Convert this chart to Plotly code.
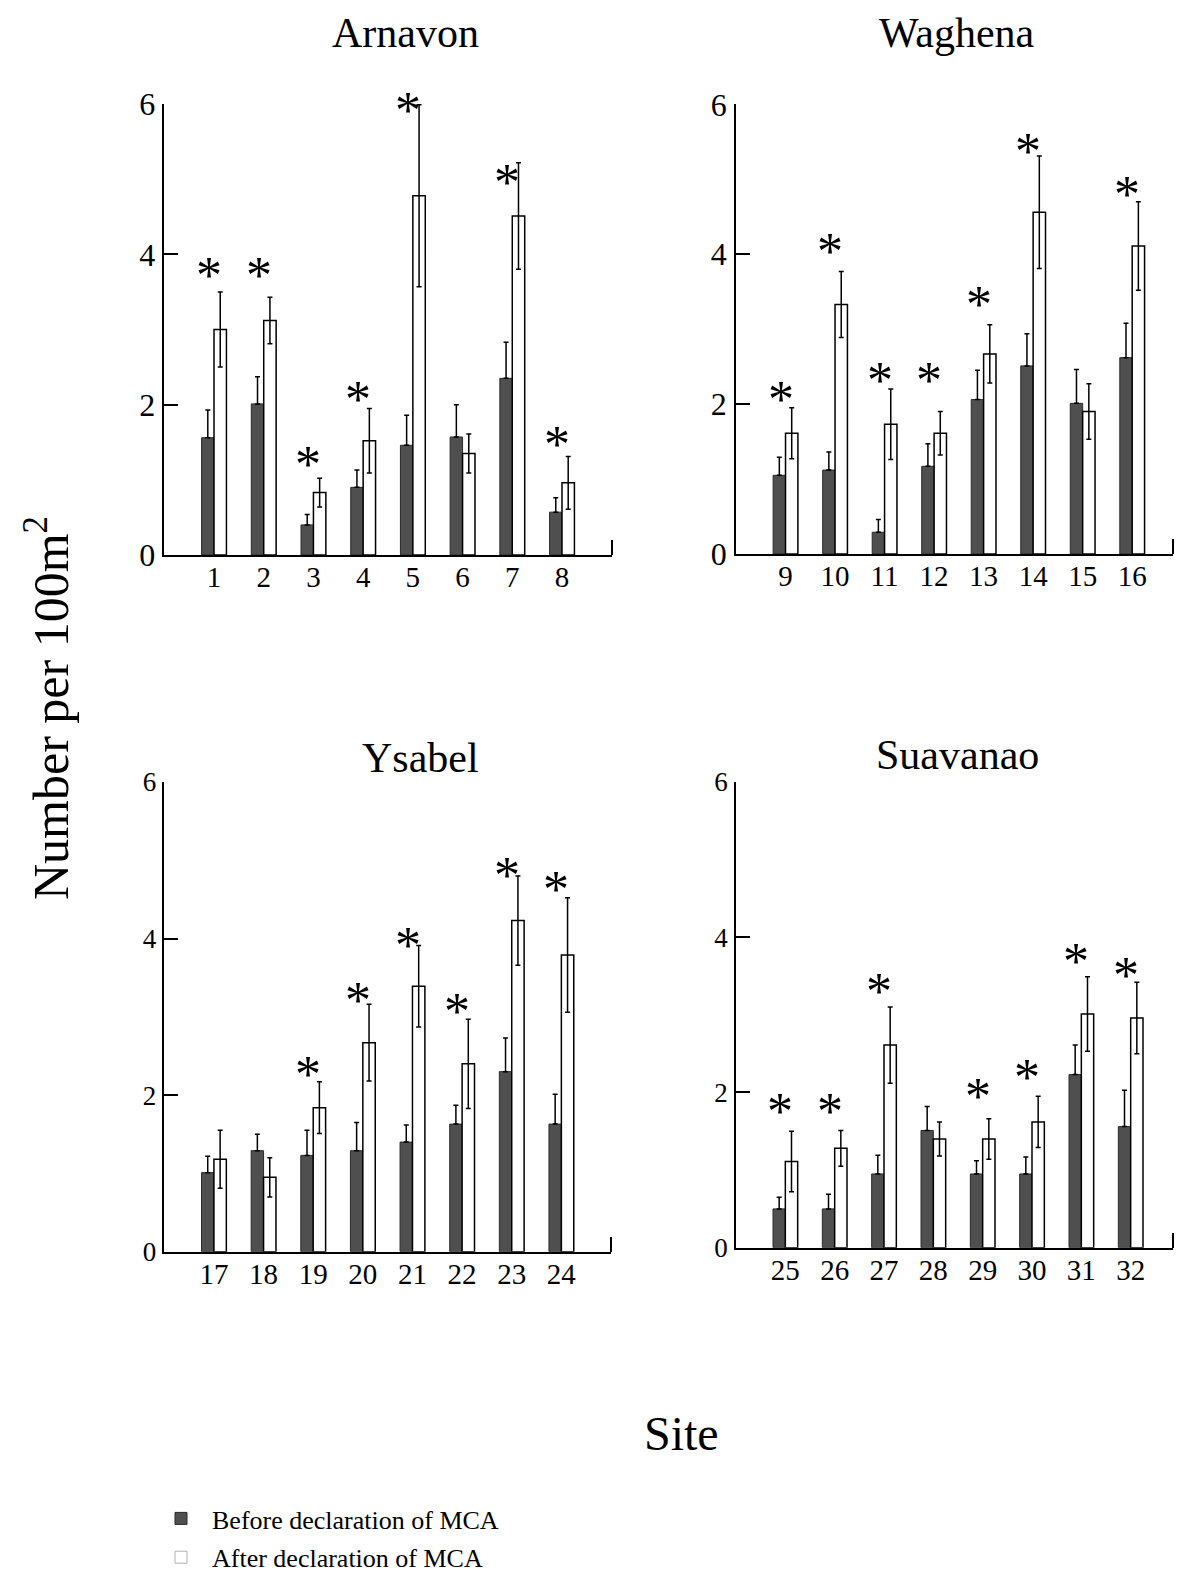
import plotly.graph_objects as go

# ---------------- data ----------------
arn_sites = ["1", "2", "3", "4", "5", "6", "7", "8"]
arn_before = [1.56, 2.01, 0.40, 0.90, 1.46, 1.57, 2.35, 0.57]
arn_before_se = [0.37, 0.36, 0.14, 0.23, 0.40, 0.43, 0.48, 0.19]
arn_after = [3.00, 3.12, 0.83, 1.52, 4.78, 1.35, 4.51, 0.96]
arn_after_se = [0.50, 0.31, 0.19, 0.43, 1.21, 0.26, 0.71, 0.35]
arn_star = [3.80, 3.80, 1.29, 2.15, 5.99, None, 5.03, 1.55]

wag_sites = ["9", "10", "11", "12", "13", "14", "15", "16"]
wag_before = [1.05, 1.12, 0.29, 1.17, 2.06, 2.51, 2.01, 2.62]
wag_before_se = [0.24, 0.24, 0.17, 0.30, 0.39, 0.43, 0.45, 0.46]
wag_after = [1.61, 3.33, 1.73, 1.61, 2.67, 4.56, 1.90, 4.11]
wag_after_se = [0.34, 0.44, 0.47, 0.29, 0.39, 0.75, 0.37, 0.59]
wag_star = [2.14, 4.11, 2.39, 2.39, 3.41, 5.45, None, 4.88]

ysa_sites = ["17", "18", "19", "20", "21", "22", "23", "24"]
ysa_before = [1.01, 1.29, 1.23, 1.29, 1.40, 1.63, 2.30, 1.63]
ysa_before_se = [0.21, 0.21, 0.32, 0.36, 0.22, 0.24, 0.43, 0.38]
ysa_after = [1.18, 0.95, 1.84, 2.67, 3.39, 2.40, 4.23, 3.79]
ysa_after_se = [0.37, 0.25, 0.33, 0.49, 0.52, 0.57, 0.57, 0.73]
ysa_star = [None, None, 2.34, 3.28, 3.99, 3.15, 4.88, 4.70]

sua_sites = ["25", "26", "27", "28", "29", "30", "31", "32"]
sua_before = [0.50, 0.50, 0.95, 1.51, 0.95, 0.95, 2.23, 1.56]
sua_before_se = [0.15, 0.19, 0.24, 0.31, 0.17, 0.22, 0.38, 0.47]
sua_after = [1.11, 1.28, 2.61, 1.40, 1.40, 1.62, 3.01, 2.96]
sua_after_se = [0.39, 0.23, 0.49, 0.22, 0.26, 0.33, 0.48, 0.46]
sua_star = [1.83, 1.83, 3.38, None, 2.03, 2.27, 3.76, 3.58]

panel_titles = ["Arnavon", "Waghena", "Ysabel", "Suavanao"]
legend_names = ["Before declaration of MCA", "After declaration of MCA"]
y_ticks = [0, 2, 4, 6]

# ---------------- styling / layout ----------------
FONT = "Liberation Serif"
DARK = "#4f4f4f"
OFF = 8                      # page body margin of the browser
W, H = 1184 - OFF, 1580 - 2 * OFF
VIS_RIGHT = 1173             # right-most visible screen pixel


def px(p):
    return (p - OFF) / W


def py(p):
    return 1 - (p - OFF) / H


panels = [
    dict(sites=arn_sites, b=arn_before, bse=arn_before_se, a=arn_after, ase=arn_after_se, star=arn_star,
         xs=(164.3, 611.7), yd=[py(555), py(104)], yfs=32, title_xy=(405, None), xstand=-5),
    dict(sites=wag_sites, b=wag_before, bse=wag_before_se, a=wag_after, ase=wag_after_se, star=wag_star,
         xs=(736, 1181.7), yd=[py(554), py(104.3)], yfs=32, title_xy=(957, None), xstand=-5),
    dict(sites=ysa_sites, b=ysa_before, bse=ysa_before_se, a=ysa_after, ase=ysa_after_se, star=ysa_star,
         xs=(164.3, 611), yd=[py(1251.7), py(782)], yfs=27, title_xy=(421, 758), xstand=-4),
    dict(sites=sua_sites, b=sua_before, bse=sua_before_se, a=sua_after, ase=sua_after_se, star=sua_star,
         xs=(736, 1180), yd=[py(1247.7), py(782)], yfs=27, title_xy=(957, 755), xstand=-4),
]

fig = go.Figure()
annotations = []
layout_axes = {}

for i, p in enumerate(panels):
    n = i + 1
    xa = "x" if n == 1 else f"x{n}"
    ya = "y" if n == 1 else f"y{n}"
    pos = list(range(1, len(p["sites"]) + 1))

    x0, x1 = p["xs"]
    full_max = len(pos) + 1
    vis_end = min(x1, VIS_RIGHT)
    rmax = full_max * (vis_end - x0) / (x1 - x0)

    fig.add_trace(go.Bar(
        x=pos, y=p["b"], xaxis=xa, yaxis=ya, showlegend=False, offsetgroup="b",
        marker=dict(color=DARK, line=dict(color="#2a2a2a", width=1)),
        error_y=dict(type="data", array=p["bse"], arrayminus=[0] * len(p["bse"]), symmetric=False,
                     color="black", thickness=1.5, width=2.5),
    ))
    fig.add_trace(go.Bar(
        x=pos, y=p["a"], xaxis=xa, yaxis=ya, showlegend=False, offsetgroup="a",
        marker=dict(color="white", line=dict(color="black", width=1.5)),
        error_y=dict(type="data", array=p["ase"], color="black", thickness=1.5, width=2.5),
    ))

    for xi, sy in zip(pos, p["star"]):
        if sy is not None:
            annotations.append(dict(
                x=xi - 0.1, y=sy, xref=xa, yref=ya, text="*", showarrow=False,
                font=dict(family=FONT, size=52, color="black"), yanchor="middle", yshift=-6,
            ))

    tx, ty = p["title_xy"]
    if ty is None:
        tpos = dict(y=1.0, yanchor="top")
    else:
        tpos = dict(y=py(ty), yanchor="middle")
    annotations.append(dict(
        x=px(tx), xref="paper", yref="paper", text=panel_titles[i], showarrow=False,
        font=dict(family=FONT, size=42, color="black"), xanchor="center", **tpos,
    ))

    xkey = "xaxis" if n == 1 else f"xaxis{n}"
    ykey = "yaxis" if n == 1 else f"yaxis{n}"
    layout_axes[xkey] = dict(
        domain=[px(x0), px(vis_end)], anchor=ya, range=[0, rmax],
        tickmode="array", tickvals=pos, ticktext=p["sites"], ticks="",
        showline=True, linecolor="black", linewidth=1.5, showgrid=False, zeroline=False,
        tickfont=dict(family=FONT, size=29, color="black"), ticklabelstandoff=p["xstand"],
        minor=dict(tickmode="array", tickvals=[rmax], ticks="inside", ticklen=15,
                   tickcolor="black", tickwidth=1.5, showgrid=False),
        fixedrange=True, automargin=False,
    )
    layout_axes[ykey] = dict(
        domain=p["yd"], anchor=xa, range=[0, 6],
        tickmode="array", tickvals=y_ticks, ticks="inside", ticklen=14, tickwidth=1.5, tickcolor="black",
        showline=True, linecolor="black", linewidth=1.5, showgrid=False, zeroline=False,
        tickfont=dict(family=FONT, size=p["yfs"], color="black"), ticklabelstandoff=1,
        fixedrange=True, automargin=False,
    )

# legend-only entries
fig.add_trace(go.Bar(x=[None], y=[None], name=legend_names[0], legendgroup="g1",
                     marker=dict(color=DARK, line=dict(color="#2a2a2a", width=1))))
fig.add_trace(go.Bar(x=[None], y=[None], name=legend_names[1], legendgroup="g2",
                     marker=dict(color="white", line=dict(color="#b0b0b0", width=1))))

# axis titles
annotations.append(dict(
    x=px(47), y=py(708), xref="paper", yref="paper", text="Number per 100m<sup>2</sup>",
    textangle=-90, showarrow=False, font=dict(family=FONT, size=50, color="black"),
    xanchor="center", yanchor="middle",
))
annotations.append(dict(
    x=px(681), y=py(1433), xref="paper", yref="paper", text="Site", showarrow=False,
    font=dict(family=FONT, size=48, color="black"), xanchor="center", yanchor="middle",
))

fig.update_layout(
    width=W, height=H, margin=dict(l=0, r=0, t=0, b=0, autoexpand=False),
    paper_bgcolor="white", plot_bgcolor="white",
    barmode="group", bargap=0.5, bargroupgap=0,
    font=dict(family=FONT, color="black"),
    annotations=annotations,
    showlegend=True,
    legend=dict(x=142 / W, y=-9 / H, xanchor="left", yanchor="bottom",
                font=dict(family=FONT, size=26, color="black"),
                itemwidth=52, tracegroupgap=2, traceorder="grouped",
                bgcolor="rgba(0,0,0,0)"),
    **layout_axes,
)

fig.write_html("out.html")
